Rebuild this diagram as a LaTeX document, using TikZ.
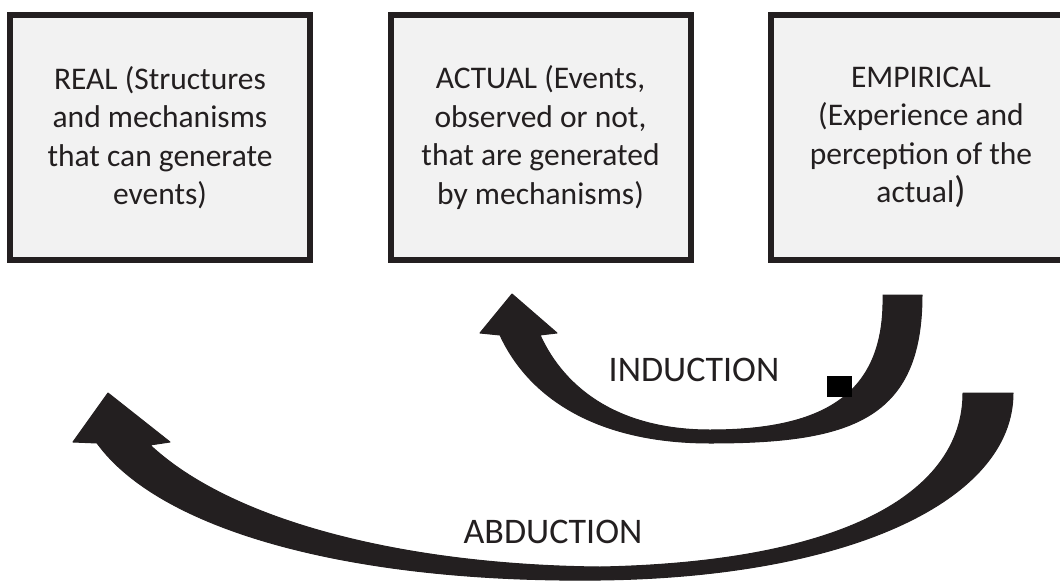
\documentclass[tikz,border=0pt]{standalone}
\usepackage{fontspec}
\setmainfont{Carlito}
\definecolor{ink}{HTML}{231F20}
\definecolor{boxfill}{HTML}{F2F2F2}
\begin{document}
\begin{tikzpicture}[x=1pt,y=-1pt,
  box/.style={draw=ink, fill=boxfill, line width=6pt, minimum width=300pt, minimum height=245pt, inner sep=0pt, align=center, text=ink, font=\fontsize{31.5}{38.5}\selectfont},
  lbl/.style={text=ink, inner sep=0pt, font=\fontsize{36}{40}\selectfont},
  band/.style={fill=ink, draw=ink, line width=1pt, line join=round}]
\useasboundingbox (0,0) rectangle (1060,581);
\clip (0,0) rectangle (1060,581);
\node[box] (real) at (160,137.5) {REAL (Structures\\and mechanisms\\that can generate\\events)};
\node[box] (actual) at (540.5,137.5) {ACTUAL (Events,\\observed or not,\\that are generated\\by mechanisms)};
\node[box] (empirical) at (921,137.5) {EMPIRICAL\\(Experience and\\perception of the\\actual{\fontsize{37}{38.5}\selectfont )}};
% induction arrow
\path[band] (883,295) -- (922,295) .. controls (922,420) and (850,443) .. (710,443)
  .. controls (600,443) and (530,400) .. (500,335) -- (480,333) -- (512,294) -- (557,333) -- (540,335)
  .. controls (565,390) and (620,430) .. (710,430) .. controls (830,430) and (885,390) .. (883,295) -- cycle;
\fill[black] (827,376) rectangle (852,397);
% abduction arrow
\path[band] (963,393) -- (1013,393) .. controls (1013,500) and (850,577) .. (600,580)
  .. controls (350,583) and (160,530) .. (97,443) -- (73,442) -- (108,393) -- (170,442) -- (150,445)
  .. controls (230,520) and (400,565) .. (600,567) .. controls (850,562) and (963,490) .. (963,393) -- cycle;
\node[lbl] (ind) at (694,370) {INDUCTION};
\node[lbl] (abd) at (553,532) {ABDUCTION};
\end{tikzpicture}
\end{document}
